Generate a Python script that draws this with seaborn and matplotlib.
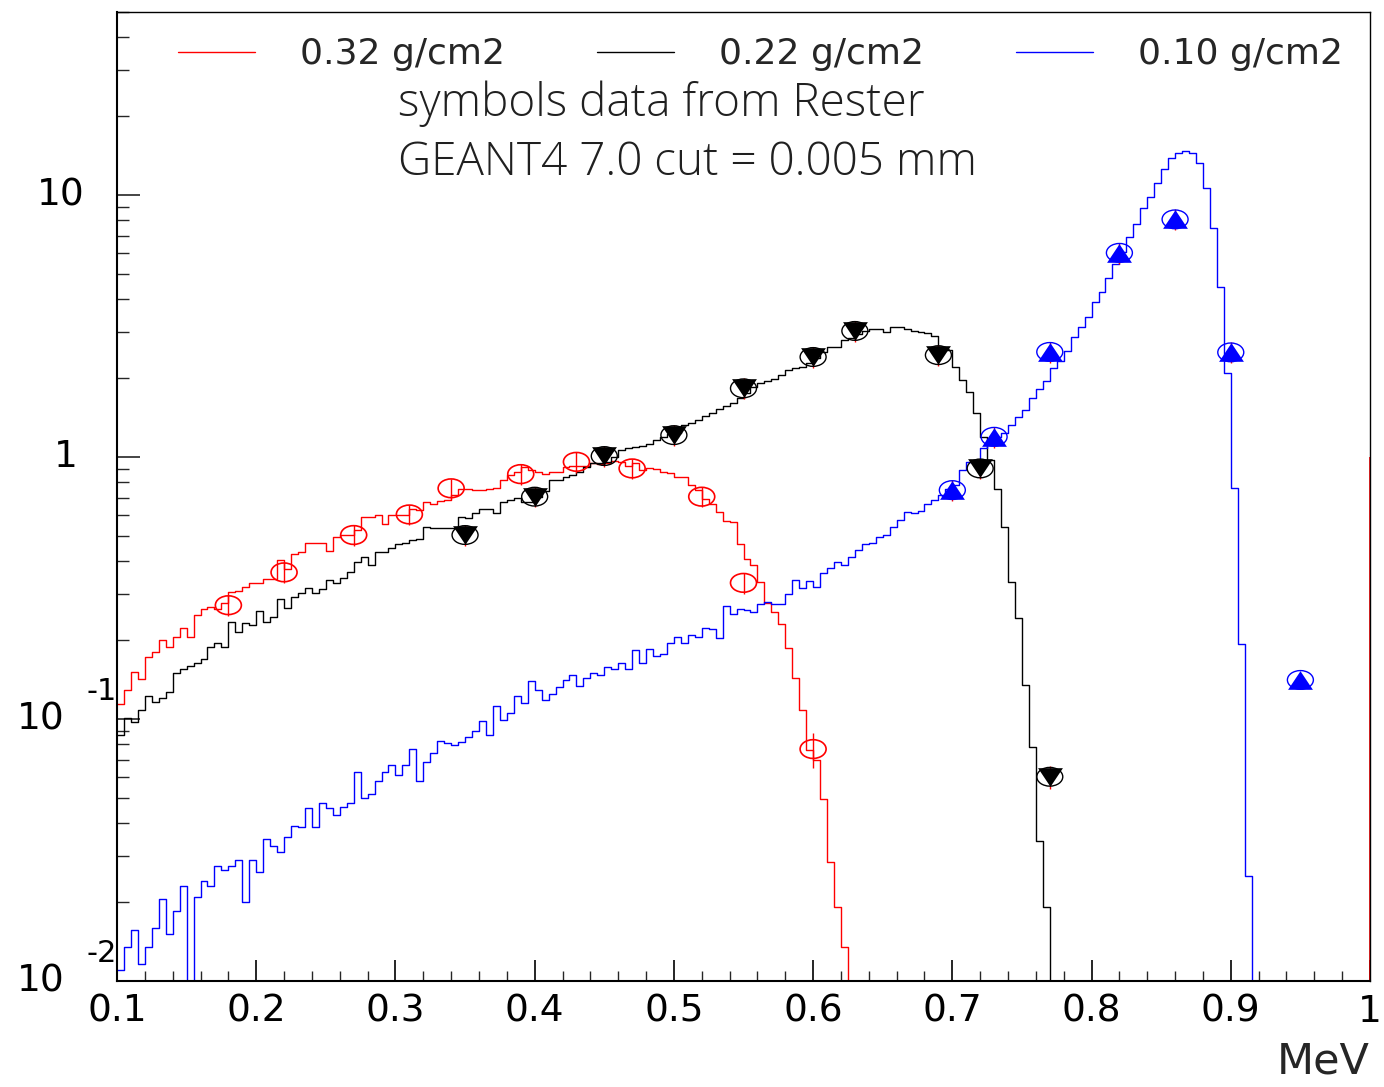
import numpy as np
import pandas as pd
import matplotlib
matplotlib.use("Agg")
import matplotlib.pyplot as plt
import seaborn as sns
from matplotlib.path import Path
from matplotlib.transforms import Affine2D, blended_transform_factory, offset_copy
from matplotlib.lines import Line2D
from matplotlib.ticker import FixedLocator, FixedFormatter, MultipleLocator, LogLocator, NullFormatter

# ---------------- data ----------------
E_MIN = 0.1       # MeV, left edge of first bin
BIN_W = 0.005     # MeV, bin width

legend_labels = ["0.32 g/cm2", "0.22 g/cm2", "0.10 g/cm2"]
series_colors = ["red", "black", "blue"]

# GEANT4 histograms (bin contents from 0.1 MeV, 0.005 MeV bins)
red_hist = [
    0.114, 0.129, 0.151, 0.142, 0.173, 0.180, 0.200, 0.188, 0.205, 0.223,
    0.205, 0.250, 0.262, 0.268, 0.262, 0.277, 0.305, 0.309, 0.318, 0.331,
    0.331, 0.341, 0.341, 0.405, 0.373, 0.426, 0.433, 0.468, 0.468, 0.468,
    0.439, 0.494, 0.504, 0.504, 0.527, 0.589, 0.589, 0.601, 0.554, 0.601,
    0.601, 0.601, 0.632, 0.628, 0.675, 0.662, 0.680, 0.686, 0.716, 0.755,
    0.755, 0.748, 0.748, 0.755, 0.764, 0.817, 0.854, 0.879, 0.918, 0.892,
    0.879, 0.861, 0.879, 0.879, 0.918, 0.926, 0.926, 0.926, 0.946, 0.940,
    0.946, 0.965, 0.960, 0.924, 0.951, 0.892, 0.910, 0.900, 0.879, 0.867,
    0.841, 0.841, 0.782, 0.748, 0.690, 0.662, 0.618, 0.571, 0.566, 0.466,
    0.409, 0.387, 0.334, 0.278, 0.257, 0.231, 0.186, 0.143, 0.108, 0.0762,
    0.0697, 0.0496, 0.0285, 0.0191, 0.0135, 0.0,
]
black_hist = [
    0.0869, 0.1006, 0.0976, 0.1082, 0.1224, 0.1158, 0.1200, 0.1264, 0.1494, 0.1547,
    0.1597, 0.1631, 0.1690, 0.1887, 0.1955, 0.1877, 0.2351, 0.2142, 0.2331, 0.2278,
    0.2583, 0.2351, 0.2457, 0.2863, 0.2645, 0.2929, 0.3034, 0.3170, 0.3034, 0.3134,
    0.3392, 0.3313, 0.3443, 0.3629, 0.3984, 0.4142, 0.3870, 0.4327, 0.4350, 0.4506,
    0.4643, 0.4684, 0.4822, 0.4852, 0.5420, 0.5372, 0.5358, 0.5353, 0.5372, 0.5917,
    0.5834, 0.6096, 0.6332, 0.6332, 0.6096, 0.6753, 0.6855, 0.6995, 0.6753, 0.6753,
    0.7058, 0.7436, 0.8171, 0.8171, 0.8410, 0.8539, 0.8789, 0.9183, 0.9462, 0.9462,
    0.9596, 1.003, 1.063, 1.079, 1.095, 1.104, 1.121, 1.161, 1.195, 1.221,
    1.232, 1.325, 1.345, 1.384, 1.434, 1.472, 1.525, 1.565, 1.614, 1.675,
    1.755, 1.845, 1.911, 1.950, 1.985, 2.056, 2.148, 2.181, 2.211, 2.278,
    2.381, 2.523, 2.636, 2.636, 2.797, 2.839, 2.940, 3.027, 3.073, 3.073,
    3.008, 3.143, 3.126, 3.073, 3.035, 3.008, 2.966, 2.896, 2.600, 2.561,
    2.211, 1.967, 1.775, 1.468, 1.195, 0.974, 0.755, 0.542, 0.334, 0.2422,
    0.1344, 0.0784, 0.0342, 0.0191, 0.0,
]
blue_hist = [
    0.0110, 0.0135, 0.0156, 0.0116, 0.0135, 0.0160, 0.0205, 0.0151, 0.0185, 0.0231,
    0.0, 0.0210, 0.0241, 0.0231, 0.0275, 0.0265, 0.0275, 0.0290, 0.0201, 0.0290,
    0.0261, 0.0347, 0.0328, 0.0311, 0.0355, 0.0390, 0.0386, 0.0456, 0.0386, 0.0477,
    0.0456, 0.0430, 0.0463, 0.0477, 0.0626, 0.0501, 0.0516, 0.0581, 0.0626, 0.0667,
    0.0611, 0.0667, 0.0768, 0.0581, 0.0683, 0.0740, 0.0827, 0.0812, 0.0796, 0.0819,
    0.0852, 0.0900, 0.0985, 0.0869, 0.1121, 0.0991, 0.1051, 0.1227, 0.1148, 0.1396,
    0.1290, 0.1182, 0.1242, 0.1328, 0.1409, 0.1472, 0.1340, 0.1430, 0.1494, 0.1472,
    0.1583, 0.1551, 0.1631, 0.1547, 0.1834, 0.1631, 0.1850, 0.1744, 0.1766, 0.1945,
    0.2050, 0.1955, 0.2092, 0.2050, 0.2219, 0.2205, 0.2032, 0.2700, 0.2515, 0.2622,
    0.2606, 0.2567, 0.2748, 0.2804, 0.2743, 0.2748, 0.2999, 0.3392, 0.3154, 0.3363,
    0.3198, 0.3597, 0.3759, 0.3963, 0.3870, 0.4164, 0.4416, 0.4643, 0.4684, 0.4963,
    0.5038, 0.5420, 0.5747, 0.6150, 0.6096, 0.6237, 0.6600, 0.6855, 0.7161, 0.7528,
    0.7818, 0.8922, 0.9596, 0.9596, 1.079, 1.161, 1.189, 1.232, 1.325, 1.425,
    1.511, 1.687, 1.813, 1.950, 2.181, 2.331, 2.539, 2.879, 3.126, 3.432,
    3.915, 4.274, 4.810, 5.453, 6.075, 6.895, 7.731, 8.897, 9.852, 11.08,
    12.54, 13.81, 14.43, 14.76, 14.43, 13.21, 10.66, 7.503, 4.443, 2.098,
    0.759, 0.1928, 0.02516, 0.0,
]

# red histogram edge line drawn at the upper end of the range
red_edge_E = 1.0
red_edge_top = 1.0

# measured data (Rester), symbols
red_pts_E = [0.18, 0.22, 0.27, 0.31, 0.34, 0.39, 0.43, 0.47, 0.52, 0.55, 0.60]
red_pts_y = [0.272, 0.363, 0.504, 0.604, 0.760, 0.861, 0.959, 0.905, 0.706, 0.331, 0.0768]
red_pts_err = [0.025, 0.033, 0.045, 0.055, 0.068, 0.078, 0.087, 0.082, 0.064, 0.030, 0.012]

black_pts_E = [0.35, 0.40, 0.45, 0.50, 0.55, 0.60, 0.63, 0.69, 0.72, 0.77]
black_pts_y = [0.504, 0.706, 1.009, 1.213, 1.83, 2.41, 3.03, 2.45, 0.905, 0.0602]
black_pts_err = [0.045, 0.064, 0.09, 0.11, 0.165, 0.22, 0.27, 0.22, 0.08, 0.006]

blue_pts_E = [0.70, 0.73, 0.77, 0.82, 0.86, 0.90, 0.95]
blue_pts_y = [0.748, 1.195, 2.52, 6.02, 8.08, 2.51, 0.141]
blue_pts_err = [0.068, 0.11, 0.23, 0.55, 0.74, 0.23, 0.004]

x_major_ticks = [0.1, 0.2, 0.3, 0.4, 0.5, 0.6, 0.7, 0.8, 0.9, 1.0]
x_tick_labels = ["0.1", "0.2", "0.3", "0.4", "0.5", "0.6", "0.7", "0.8", "0.9", "1"]
y_major_ticks = [0.01, 0.1, 1, 10]
y_tick_mantissa = ["10", "10", "1", "10"]
y_tick_exponent = ["-2", "-1", "", ""]

notes = ["symbols data from Rester", "GEANT4 7.0 cut = 0.005 mm"]

# ---------------- style ----------------
sns.set_theme(style="white")
plt.rcParams["font.family"] = ["DejaVu Sans"]

W, H = 1384, 1087
fig = plt.figure(figsize=(W / 100, H / 100), dpi=100)
fig.patch.set_facecolor("white")
ax = fig.add_axes([117 / W, 1 - 981 / H, (1370 - 117) / W, (981 - 12) / H])
ax.set_facecolor("white")


def hist_frame(values):
    n = len(values)
    edges = E_MIN + BIN_W * np.arange(n + 1)
    centers = 0.5 * (edges[:-1] + edges[1:])
    return pd.DataFrame({"E": centers, "counts": values}), list(edges)


for vals, col in zip([red_hist, black_hist, blue_hist], series_colors):
    df, edges = hist_frame(vals)
    sns.histplot(data=df, x="E", weights="counts", bins=edges, element="step",
                 fill=False, color=col, linewidth=1.0, ax=ax, zorder=2)

ax.set_yscale("log")
ax.set_xlim(0.1, 1.0)
ax.set_ylim(0.01, 50)

ax.vlines([red_edge_E], [0.01], [red_edge_top], colors="red", linewidth=1.2, zorder=2)

# markers
ell = Path.unit_circle().transformed(Affine2D().scale(1.0, 0.72))
tri_down = Path([(-1, 0.75), (1, 0.75), (0, -0.75), (-1, 0.75)],
                [Path.MOVETO, Path.LINETO, Path.LINETO, Path.CLOSEPOLY])
tri_up = Path([(-1, -0.75), (1, -0.75), (0, 0.75), (-1, -0.75)],
              [Path.MOVETO, Path.LINETO, Path.LINETO, Path.CLOSEPOLY])

for E, y, err in [(red_pts_E, red_pts_y, red_pts_err),
                  (black_pts_E, black_pts_y, black_pts_err),
                  (blue_pts_E, blue_pts_y, blue_pts_err)]:
    ax.errorbar(E, y, yerr=err, fmt="none", ecolor="red", elinewidth=1.0,
                capsize=0, zorder=3)

ELL_S, TRI_S = 350, 320
sns.scatterplot(x=red_pts_E, y=red_pts_y, marker=ell, s=ELL_S, color="red",
                facecolor="none", edgecolor="red", linewidth=1.2, ax=ax, zorder=4)
sns.scatterplot(x=black_pts_E, y=black_pts_y, marker=ell, s=ELL_S, color="black",
                facecolor="none", edgecolor="black", linewidth=1.0, ax=ax, zorder=4)
sns.scatterplot(x=black_pts_E, y=black_pts_y, marker=tri_down, s=TRI_S, color="black",
                edgecolor="black", linewidth=0, ax=ax, zorder=5)
sns.scatterplot(x=blue_pts_E, y=blue_pts_y, marker=ell, s=ELL_S, color="blue",
                facecolor="none", edgecolor="blue", linewidth=1.0, ax=ax, zorder=4)
sns.scatterplot(x=blue_pts_E, y=blue_pts_y, marker=tri_up, s=TRI_S, color="blue",
                edgecolor="blue", linewidth=0, ax=ax, zorder=5)

# axes / ticks
for side in ["left", "bottom"]:
    ax.spines[side].set_linewidth(1.5)
    ax.spines[side].set_color("black")
for side in ["top", "right"]:
    ax.spines[side].set_linewidth(1.0)
    ax.spines[side].set_color("black")

ax.xaxis.set_major_locator(FixedLocator(x_major_ticks))
ax.xaxis.set_major_formatter(FixedFormatter(x_tick_labels))
ax.xaxis.set_minor_locator(MultipleLocator(0.02))
ax.yaxis.set_major_locator(FixedLocator(y_major_ticks))
ax.yaxis.set_major_formatter(NullFormatter())
ax.yaxis.set_minor_locator(LogLocator(base=10, subs=np.arange(2, 10) * 1.0, numticks=20))
ax.yaxis.set_minor_formatter(NullFormatter())

ax.tick_params(axis="x", which="major", direction="in", length=15, width=1.2,
               bottom=True, top=False, labelsize=27, pad=9, colors="black")
ax.tick_params(axis="x", which="minor", direction="in", length=7.5, width=1.0,
               bottom=True, top=False)
ax.tick_params(axis="y", which="major", direction="in", length=16.5, width=1.2,
               left=True, right=False, labelleft=False)
ax.tick_params(axis="y", which="minor", direction="in", length=8.5, width=1.0,
               left=True, right=False)

ax.set_xlabel("MeV", loc="right", fontsize=31, labelpad=8)
ax.set_ylabel("")

# y tick labels, ROOT style (mantissa + raised exponent)
trans = blended_transform_factory(ax.transAxes, ax.transData)
for v, mant, ex in zip(y_major_ticks, y_tick_mantissa, y_tick_exponent):
    if ex:
        dx = -52
    elif mant == "1":
        dx = -39
    else:
        dx = -32
    ax.text(0, v, mant, transform=offset_copy(trans, fig=fig, x=dx, y=0, units="dots"),
            ha="right", va="center", fontsize=27, color="black")
    if ex:
        ax.text(0, v, ex, transform=offset_copy(trans, fig=fig, x=-31, y=28, units="dots"),
                ha="left", va="center", fontsize=22, color="black")

# legend
handles = [Line2D([0], [0], color=c, lw=1.0) for c in series_colors]
ax.legend(handles, legend_labels, loc="center left", bbox_to_anchor=(0.0487, 0.9565),
          ncol=3, frameon=False, fontsize=26, handlelength=2.13, handletextpad=1.25,
          columnspacing=2.55, borderpad=0, borderaxespad=0)

# annotation text
ax.text(0.2243, 0.8927, notes[0], transform=ax.transAxes, ha="left", va="baseline",
        fontsize=33, family=["Open Sans", "Lato", "DejaVu Sans"], fontweight="light",
        color="#202020")
ax.text(0.2243, 0.8318, notes[1], transform=ax.transAxes, ha="left", va="baseline",
        fontsize=33, family=["Open Sans", "Lato", "DejaVu Sans"], fontweight="light",
        color="#202020")

fig.savefig("out.png", dpi=100, facecolor="white")
